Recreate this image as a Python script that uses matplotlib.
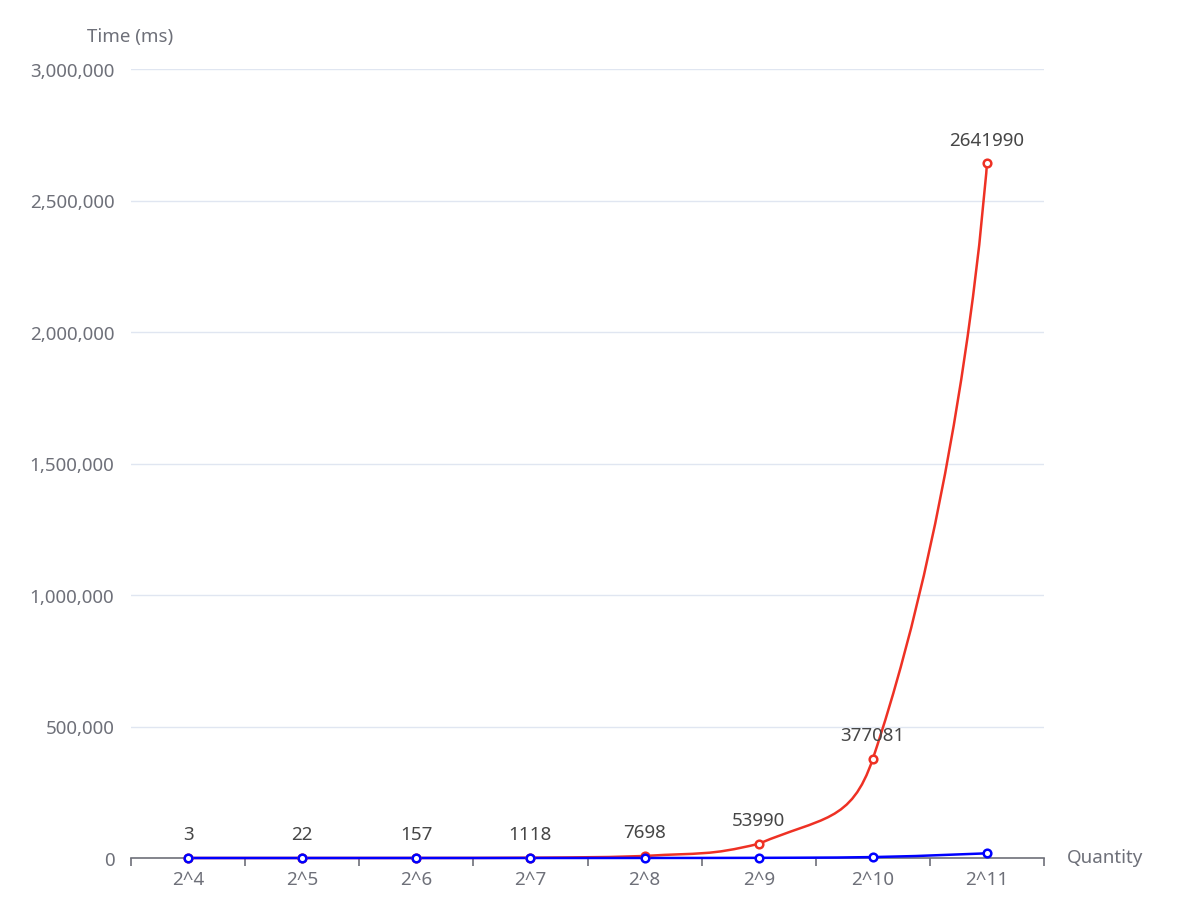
import numpy as np
import matplotlib.pyplot as plt
from matplotlib.path import Path
from matplotlib.patches import PathPatch
from matplotlib.ticker import FuncFormatter

categories = ['2^4', '2^5', '2^6', '2^7', '2^8', '2^9', '2^10', '2^11']
red_values = [3, 22, 157, 1118, 7698, 53990, 377081, 2641990]
blue_values = [1, 3, 10, 40, 150, 600, 3500, 18000]

plt.rcParams['font.family'] = ['Noto Sans', 'DejaVu Sans']

fig = plt.figure(figsize=(11.82, 9.04), dpi=100)
ax = fig.add_axes([131 / 1182, 1 - 859 / 904, (1044 - 131) / 1182, (859 - 70) / 904])

x = np.arange(len(categories))
ax.set_xlim(-0.5, len(categories) - 0.5)
ax.set_ylim(0, 3000000)


def smooth_path(xs, ys, sx, sy, smooth=0.5):
    # echarts-like bezier smoothing with control points kept between neighbours
    px = np.asarray(xs, float) * sx
    py = np.asarray(ys, float) * sy
    n = len(px)
    cps = []
    for i in range(n):
        if i == 0 or i == n - 1:
            cps.append(((px[i], py[i]), (px[i], py[i])))
            continue
        vx = (px[i + 1] - px[i - 1]) * smooth
        vy = (py[i + 1] - py[i - 1]) * smooth
        d0 = np.hypot(px[i] - px[i - 1], py[i] - py[i - 1])
        d1 = np.hypot(px[i + 1] - px[i], py[i + 1] - py[i])
        r0 = d0 / (d0 + d1)
        r1 = d1 / (d0 + d1)
        c0y = np.clip(py[i] - vy * r0, min(py[i - 1], py[i]), max(py[i - 1], py[i]))
        c1y = np.clip(py[i] + vy * r1, min(py[i], py[i + 1]), max(py[i], py[i + 1]))
        cps.append(((px[i] - vx * r0, c0y), (px[i] + vx * r1, c1y)))
    verts = [(px[0], py[0])]
    codes = [Path.MOVETO]
    for i in range(1, n):
        verts += [cps[i - 1][1], cps[i][0], (px[i], py[i])]
        codes += [Path.CURVE4] * 3
    verts = [(a / sx, b / sy) for a, b in verts]
    return Path(verts, codes)


sx = 114.1
sy = 789 / 3000000

for vals, color in [(red_values, '#ee3124'), (blue_values, '#0000ff')]:
    ax.add_patch(PathPatch(smooth_path(x, vals, sx, sy), fill=False, edgecolor=color,
                           lw=1.8, zorder=3, clip_on=False))
    ax.plot(x, vals, linestyle='none', marker='o', markersize=5.5, markerfacecolor='white',
            markeredgecolor=color, markeredgewidth=1.8, zorder=4, clip_on=False)

for xi, v in zip(x, red_values):
    ax.annotate(str(v), (xi, v), xytext=(0, 17), textcoords='offset points',
                ha='center', va='center', fontsize=13.5, color='#464646')

# grid and axes styling
ax.set_yticks(np.arange(0, 3000001, 500000))
ax.yaxis.set_major_formatter(FuncFormatter(lambda v, p: f'{int(v):,}'))
ax.grid(axis='y', color='#e0e6f1', lw=1)
ax.set_axisbelow(True)
for s in ['top', 'right', 'left']:
    ax.spines[s].set_visible(False)
ax.spines['bottom'].set_color('#6e7079')
ax.spines['bottom'].set_linewidth(1.2)
ax.spines['bottom'].set_zorder(2)

ax.set_xticks(np.arange(-0.5, len(categories)), minor=False)
ax.set_xticklabels([])
ax.set_xticks(x, minor=True)
ax.set_xticklabels(categories, minor=True)
ax.tick_params(axis='x', which='major', length=6, color='#6e7079', width=1.2)
ax.tick_params(axis='x', which='minor', length=0, pad=9, labelsize=13.5, labelcolor='#6e7079')
ax.tick_params(axis='y', length=0, pad=12, labelsize=13.5, labelcolor='#6e7079')

fig.text(130 / 1182, 1 - 37 / 904, 'Time (ms)', ha='center', va='center',
         fontsize=13.5, color='#6e7079')
fig.text(1067 / 1182, 1 - 858 / 904, 'Quantity', ha='left', va='center',
         fontsize=13.5, color='#6e7079')

plt.savefig('out.png', dpi=100)
